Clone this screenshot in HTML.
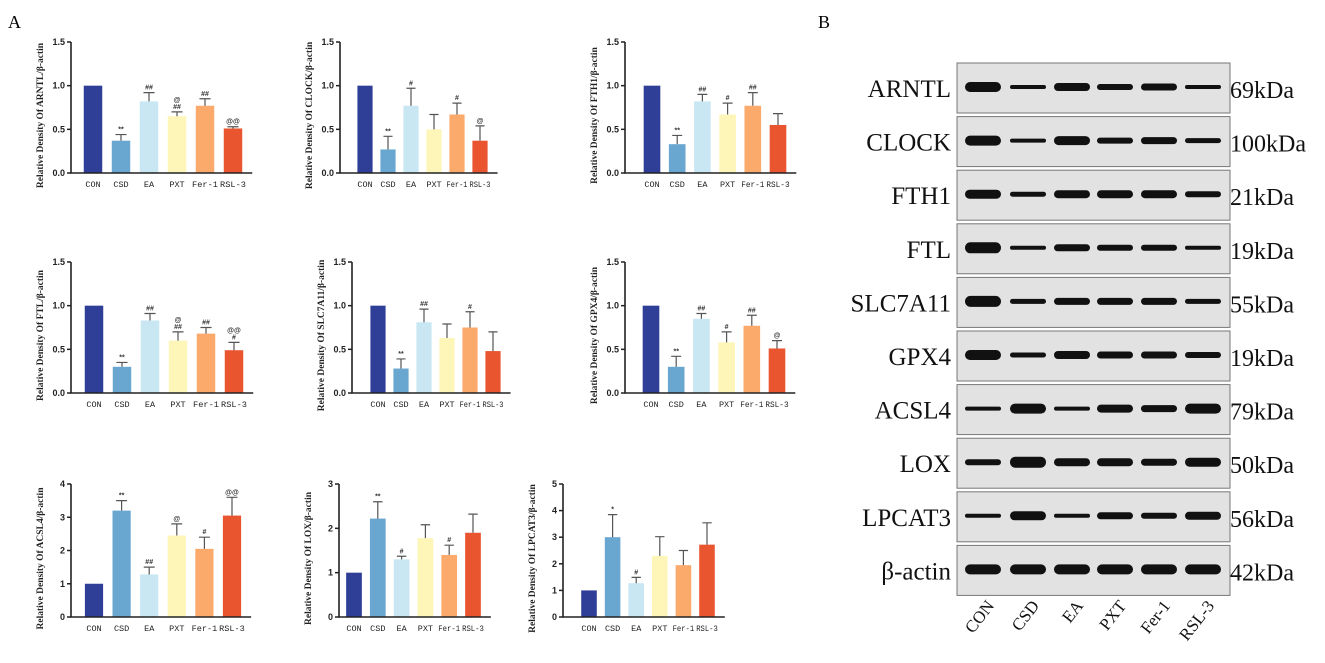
<!DOCTYPE html>
<html><head><meta charset="utf-8"><style>
body{margin:0;background:#fff;width:1325px;height:663px;overflow:hidden;font-family:"Liberation Sans",sans-serif}
svg{display:block}
</style></head><body>
<svg id="fig" width="1325" height="663">
<text x="8" y="28" font-family="Liberation Serif,serif" font-size="18">A</text>
<text x="818" y="28" font-family="Liberation Serif,serif" font-size="18">B</text>
</svg>
<script>
const NS='http://www.w3.org/2000/svg';
const svg=document.getElementById('fig');
const groups=['CON','CSD','EA','PXT','Fer-1','RSL-3'];
const colors=['#2f3f98','#6aa7d0','#c8e7f3','#fdf6b8','#fcaa6b','#e9552f'];
const proteins=['ARNTL','CLOCK','FTH1','FTL','SLC7A11','GPX4','ACSL4','LOX','LPCAT3'];
const means=[
[1,0.37,0.82,0.65,0.77,0.51],
[1,0.27,0.77,0.50,0.67,0.37],
[1,0.33,0.82,0.67,0.77,0.55],
[1,0.30,0.83,0.60,0.68,0.49],
[1,0.28,0.81,0.63,0.75,0.48],
[1,0.30,0.85,0.58,0.77,0.51],
[1,3.20,1.28,2.45,2.05,3.05],
[1,2.22,1.30,1.78,1.40,1.90],
[1,3.00,1.27,2.30,1.95,2.72]];
const errs=[
[0,0.07,0.10,0.05,0.08,0.02],
[0,0.15,0.20,0.17,0.13,0.17],
[0,0.10,0.08,0.13,0.15,0.13],
[0,0.05,0.08,0.10,0.07,0.09],
[0,0.11,0.15,0.16,0.18,0.22],
[0,0.12,0.06,0.12,0.12,0.09],
[0,0.30,0.22,0.35,0.35,0.55],
[0,0.38,0.07,0.30,0.22,0.42],
[0,0.85,0.22,0.72,0.55,0.82]];
const marks=[
['','**','##','@\n##','##','@@'],
['','**','#','','#','@'],
['','**','##','#','##',''],
['','**','##','@\n##','##','@@\n#'],
['','**','##','','#',''],
['','**','##','#','##','@'],
['','**','##','@','#','@@'],
['','**','#','','#',''],
['','*','#','','','']];
const yMax=[1.5,1.5,1.5,1.5,1.5,1.5,4,3,5];
const yTicks=[[0,0.5,1,1.5],[0,0.5,1,1.5],[0,0.5,1,1.5],[0,0.5,1,1.5],[0,0.5,1,1.5],[0,0.5,1,1.5],[0,1,2,3,4],[0,1,2,3],[0,1,2,3,4,5]];
const tickFmt=[1,1,1,1,1,1,0,0,0];
// layout per panel: axisX, topY, zeroY, firstBarX, pitch
const layout=[[71,42,173,93,28],[340,42,173,365,23],[625,42,173,652,25.2],
[71,262,393,94,28],[352,262,393,378,23],[625,262,393,651,25.2],
[71,484,617,94,27.6],[339,484,617,354,23.8],[563,484,617,589,23.6]];
function el(tag,attrs,parent){const e=document.createElementNS(NS,tag);for(const k in attrs)e.setAttribute(k,attrs[k]);(parent||svg).appendChild(e);return e;}
proteins.forEach((p,i)=>{
  const [ax,top,zero,x0,pitch]=layout[i];
  const g=el('g',{});
  
  
  const y=v=>zero-(v/yMax[i])*(zero-top);
  const bw=pitch*0.66;
  const endX=x0+pitch*5+bw/2+10;
  means[i].forEach((m,j)=>{
    const cx=x0+pitch*j;
    const b=el('rect',{x:cx-bw/2,y:y(m),width:bw,height:zero-y(m),fill:colors[j]},g);
    
    
    const e=errs[i][j];
    if(e>0){
      const eb=el('path',{d:`M${cx} ${y(m)}V${y(m+e)}M${cx-bw*0.3} ${y(m+e)}H${cx+bw*0.3}`,stroke:'#555','stroke-width':1.2,fill:'none'},g);
      
      
    }
    const mk=marks[i][j];
    if(mk){
      const lines=mk.split('\n');
      lines.forEach((t,k)=>{
        const tt=el('text',{x:cx,y:y(m+e)-3-(lines.length-1-k)*7,'text-anchor':'middle','font-size':7,'font-weight':'bold',fill:'#333'},g);
        tt.textContent=t;
        
        
      });
    }
    const attrs={x:cx,y:zero+14,'text-anchor':'middle','font-size':8.5,'font-family':'Liberation Mono,monospace',fill:'#222'};
    if(groups[j].length>=5){attrs.textLength=Math.min(26,pitch-2);attrs.lengthAdjust='spacingAndGlyphs';}
    const xl=el('text',attrs,g);
    xl.textContent=groups[j];
    
    
  });
  el('path',{d:`M${ax} ${top}V${zero}H${endX}`,stroke:'#222','stroke-width':1.6,fill:'none'},g);
  yTicks[i].forEach(t=>{
    el('line',{x1:ax-4,x2:ax,y1:y(t),y2:y(t),stroke:'#222','stroke-width':1.5},g);
    const tl=el('text',{x:ax-6,y:y(t)+3,'text-anchor':'end','font-size':9,'font-weight':'bold',fill:'#222'},g);
    tl.textContent=t.toFixed(tickFmt[i]);
    
    
  });
  const yt=el('text',{x:0,y:0,'text-anchor':'middle','font-size':9.5,'font-weight':'bold','font-family':'Liberation Serif,serif',transform:`translate(${ax-28},${(top+zero)/2+8}) rotate(-90)`,fill:'#222'},g);
  yt.textContent='Relative Density Of '+p+'/\u03b2-actin';
  
  
});
// western blot
const blotNames=['ARNTL','CLOCK','FTH1','FTL','SLC7A11','GPX4','ACSL4','LOX','LPCAT3','\u03b2-actin'];
const kda=['69kDa','100kDa','21kDa','19kDa','55kDa','19kDa','79kDa','50kDa','56kDa','42kDa'];
const bandI=[[10,4,8,6,7,4],[10,4,9,6,7,5],[9,5,8,8,8,6],[11,4,7,6,6,4],[11,5,7,7,7,5],[10,5,8,7,7,6],[4,10,4,8,7,10],[6,11,8,8,7,9],[4,9,4,7,6,8],[10,10,10,10,10,10]];
const lanes=[983,1028,1072,1115,1159,1203];
blotNames.forEach((n,i)=>{
  const top=63+i*53.6;
  const g=el('g',{});
  
  
  el('rect',{x:957,y:top,width:273,height:50,fill:'#e2e2e2',stroke:'#777','stroke-width':1},g);
  bandI[i].forEach((h,j)=>{
    const b=el('rect',{x:lanes[j]-18,y:top+24-h/2,width:36,height:h,rx:h/2,fill:'#111'},g);
    
    
  });
  const l=el('text',{x:951,y:top+34,'text-anchor':'end','font-size':25,'font-family':'Liberation Serif,serif',fill:'#111'},g);
  l.textContent=n;
  const k=el('text',{x:1230,y:top+35,'font-size':24,'font-family':'Liberation Serif,serif',fill:'#111'},g);
  k.textContent=kda[i];
});
groups.forEach((gname,j)=>{
  const t=el('text',{x:0,y:0,'text-anchor':'end','font-size':17,'font-family':'Liberation Serif,serif',transform:`translate(${lanes[j]+12},${606}) rotate(-52)`,fill:'#111'});
  t.textContent=gname;
  
  
});
</script>
</body></html>
